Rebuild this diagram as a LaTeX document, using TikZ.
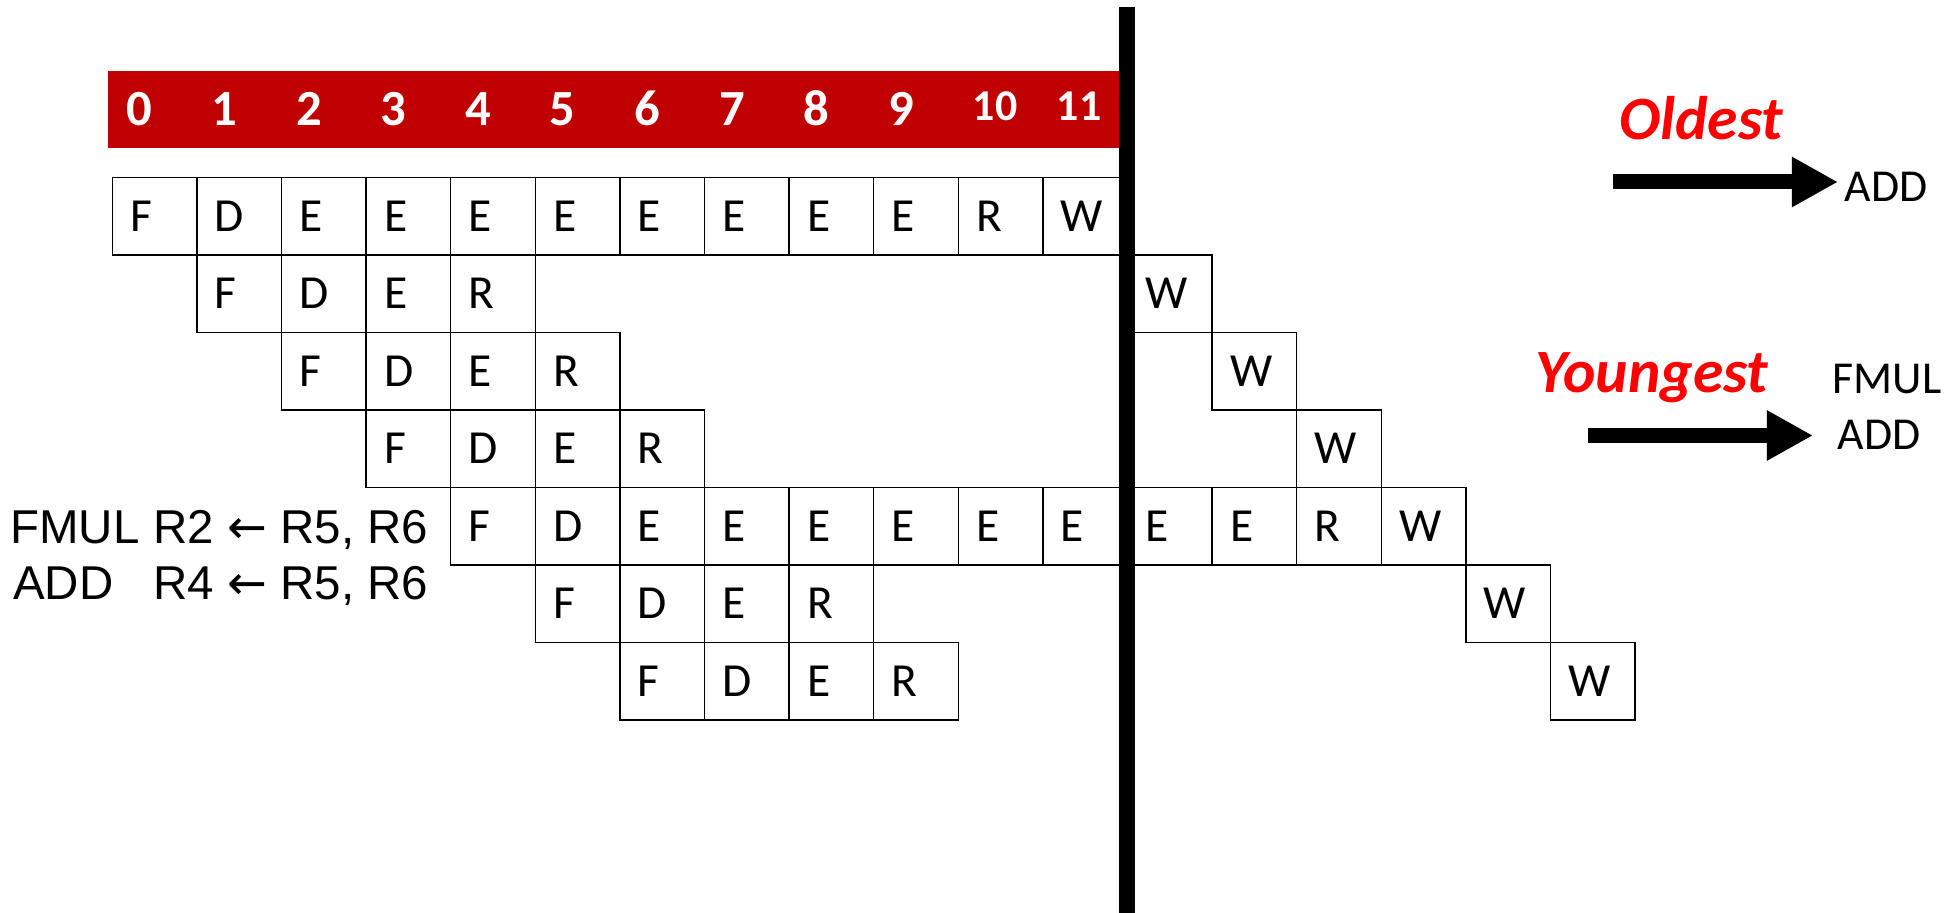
\documentclass[tikz,border=0pt]{standalone}
\usepackage{fontspec}
\setmainfont{Carlito}
\newfontfamily\instrfont{Liberation Sans}
\newfontfamily\symfont{DejaVu Sans}
\usepackage{tikz}
\usetikzlibrary{arrows.meta, positioning}
\definecolor{cyclered}{RGB}{192,0,0}
\definecolor{tagred}{RGB}{255,0,0}

\begin{document}
\begin{tikzpicture}[x=0.01cm, y=-0.01cm,
  cell/.style={draw, line width=0.4pt, anchor=north west, inner xsep=0.18cm, inner ysep=0pt, text width=0.486cm, align=left, minimum height=0.775cm, font=\fontsize{13.5}{16}\selectfont},
  cyc/.style={anchor=base, inner sep=0pt, text=white, font=\bfseries\fontsize{14.4}{16}\selectfont},
  cycsmall/.style={cyc, font=\bfseries\fontsize{12.5}{14}\selectfont},
  instr/.style={anchor=base west, inner sep=0pt, font=\instrfont\fontsize{13.5}{16}\selectfont},
  tag/.style={anchor=base, inner sep=0pt, text=tagred, font=\bfseries\itshape\fontsize{17.5}{20}\selectfont},
  op/.style={anchor=base west, inner sep=0pt, font=\fontsize{13}{15}\selectfont},
  fat/.style={line width=0.15cm, -{Triangle[length=0.46cm, width=0.47cm]}}
]
\useasboundingbox (0,0) rectangle (1951,913);

% cycle numbers
\node[fill=cyclered, anchor=north west, inner sep=0pt, minimum width=10.108cm, minimum height=0.777cm] (cycles) at (107.7,70) {};
\foreach \n in {0,...,9}
  \node[cyc] (n\n) at ({139.8+\n*84.6},125.7) {\n};
\node[cycsmall] (n10) at (995,121) {10};
\node[cycsmall] (n11) at (1079,121) {11};

% pipeline stages
\foreach \r/\s/\seq in {0/0/{F,D,E,E,E,E,E,E,E,E,R,W}, 1/1/{F,D,E,R}, 2/2/{F,D,E,R}, 3/3/{F,D,E,R},
                       4/4/{F,D,E,E,E,E,E,E,E,E,R,W}, 5/5/{F,D,E,R}, 6/6/{F,D,E,R}}
  \foreach \lbl [count=\k from \s] in \seq
    \node[cell] (c\r-\k) at ({111.5+\k*84.6},{176.7+\r*77.5}) {\lbl};
\foreach \r/\k in {1/12, 2/13, 3/14, 5/16, 6/17}
  \node[cell] (c\r-\k) at ({111.5+\k*84.6},{176.7+\r*77.5}) {W};

% current cycle
\fill (1118.5,7.3) rectangle (1135,913);

% instructions
\node[instr] (op1) at (9.5,544) {FMUL};
\node[instr] (args1) at (153,544) {R2 {\symfont ←} R5, R6};
\node[instr] (op2) at (12.5,600) {ADD};
\node[instr] (args2) at (args1.base west |- op2.base) {R4 {\symfont ←} R5, R6};

% oldest / youngest pointers
\node[tag] (oldest) at (1701,140) {Oldest};
\coordinate (oldtail) at (1613,182);
\coordinate (oldtip) at (1838,182);
\draw[fat] (oldtail) -- (oldtip);
\node[op] (oldadd) at (1844,201.7) {ADD};

\node[tag] (youngest) at (1652,393) {Youngest};
\coordinate (youngtail) at (1588,435.5);
\coordinate (youngtip) at (1813,435.5);
\draw[fat] (youngtail) -- (youngtip);
\node[op] (youngfmul) at (1832,393.3) {FMUL};
\node[op] (youngadd) at (1837,450) {ADD};

\end{tikzpicture}
\end{document}
